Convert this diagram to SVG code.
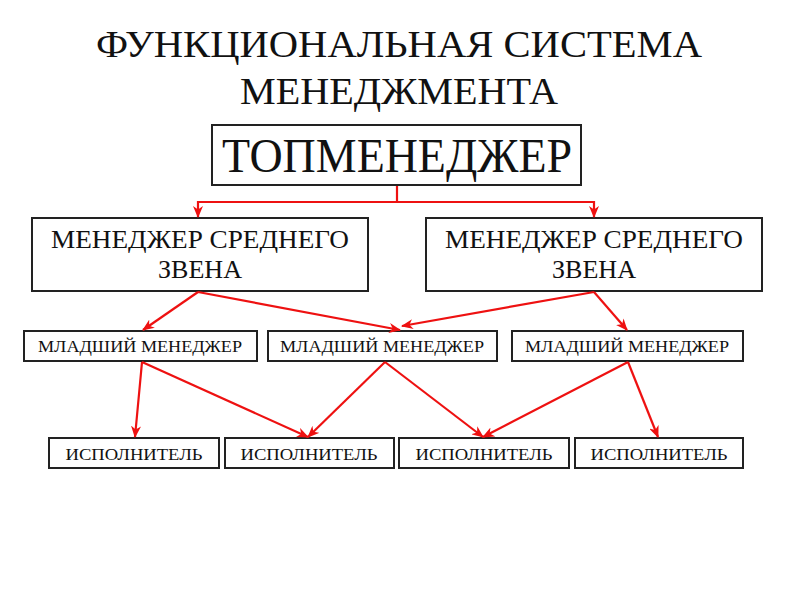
<svg xmlns="http://www.w3.org/2000/svg" width="800" height="600" viewBox="0 0 800 600">
<style>
.box{fill:#fff;stroke:#222;stroke-width:2}
.t{font-family:"Liberation Serif","DejaVu Serif",serif;fill:#111;text-anchor:middle}
.title{font-family:"Liberation Serif","DejaVu Serif",serif;font-size:38px;fill:#111;text-anchor:middle}
.c{fill:none;stroke:#ee1111;stroke-width:2.2;marker-end:url(#ah)}
</style>
<defs>
<marker id="ah" viewBox="0 0 12 10" refX="11" refY="5" markerWidth="12" markerHeight="10" markerUnits="userSpaceOnUse" orient="auto">
<path d="M0,0 L12,5 L0,10 L3.5,5 Z" fill="#ee1111"/>
</marker>
</defs>
<rect width="800" height="600" fill="#fff"/>
<text class="title" x="399" y="57" textLength="606" lengthAdjust="spacingAndGlyphs">ФУНКЦИОНАЛЬНАЯ СИСТЕМА</text>
<text class="title" x="399" y="104" textLength="318" lengthAdjust="spacingAndGlyphs">МЕНЕДЖМЕНТА</text>
<g id="top">
<rect class="box" x="212" y="125" width="369" height="60"/>
<text class="t" x="397" y="172" font-size="48" textLength="350" lengthAdjust="spacingAndGlyphs">ТОПМЕНЕДЖЕР</text>
</g>
<g id="mid1">
<rect class="box" x="32" y="218" width="336" height="73"/>
<text class="t" x="200" y="248" font-size="25" textLength="298" lengthAdjust="spacingAndGlyphs">МЕНЕДЖЕР СРЕДНЕГО</text>
<text class="t" x="200" y="278" font-size="25" textLength="84" lengthAdjust="spacingAndGlyphs">ЗВЕНА</text>
</g>
<g id="mid2">
<rect class="box" x="426" y="218" width="336" height="73"/>
<text class="t" x="594" y="248" font-size="25" textLength="298" lengthAdjust="spacingAndGlyphs">МЕНЕДЖЕР СРЕДНЕГО</text>
<text class="t" x="594" y="278" font-size="25" textLength="84" lengthAdjust="spacingAndGlyphs">ЗВЕНА</text>
</g>
<g id="jr1">
<rect class="box" x="24" y="331" width="233" height="30"/>
<text class="t" x="140" y="352" font-size="16" textLength="204" lengthAdjust="spacingAndGlyphs">МЛАДШИЙ МЕНЕДЖЕР</text>
</g>
<g id="jr2">
<rect class="box" x="268" y="331" width="229" height="30"/>
<text class="t" x="382" y="352" font-size="16" textLength="204" lengthAdjust="spacingAndGlyphs">МЛАДШИЙ МЕНЕДЖЕР</text>
</g>
<g id="jr3">
<rect class="box" x="512" y="331" width="231" height="30"/>
<text class="t" x="627" y="352" font-size="16" textLength="204" lengthAdjust="spacingAndGlyphs">МЛАДШИЙ МЕНЕДЖЕР</text>
</g>
<g id="ex1">
<rect class="box" x="49" y="438" width="170" height="30"/>
<text class="t" x="134" y="460" font-size="16" textLength="137" lengthAdjust="spacingAndGlyphs">ИСПОЛНИТЕЛЬ</text>
</g>
<g id="ex2">
<rect class="box" x="225" y="438" width="169" height="30"/>
<text class="t" x="309" y="460" font-size="16" textLength="137" lengthAdjust="spacingAndGlyphs">ИСПОЛНИТЕЛЬ</text>
</g>
<g id="ex3">
<rect class="box" x="399" y="438" width="170" height="30"/>
<text class="t" x="484" y="460" font-size="16" textLength="137" lengthAdjust="spacingAndGlyphs">ИСПОЛНИТЕЛЬ</text>
</g>
<g id="ex4">
<rect class="box" x="575" y="438" width="168" height="30"/>
<text class="t" x="659" y="460" font-size="16" textLength="137" lengthAdjust="spacingAndGlyphs">ИСПОЛНИТЕЛЬ</text>
</g>
<g id="connectors">
<path d="M397,186 V202" fill="none" stroke="#ee1111" stroke-width="2.2"/>
<path class="c" d="M397,202 H198 V217"/>
<path class="c" d="M397,202 H594 V217"/>
<path class="c" d="M198,292 L143,330"/>
<path class="c" d="M198,292 L400,330"/>
<path class="c" d="M594,292 L402,326"/>
<path class="c" d="M594,292 L627,330"/>
<path class="c" d="M142,362 L135,437"/>
<path class="c" d="M142,362 L308,437"/>
<path class="c" d="M385,362 L308,437"/>
<path class="c" d="M385,362 L483,437"/>
<path class="c" d="M628,362 L483,437"/>
<path class="c" d="M628,362 L658,437"/>
</g>
</svg>
